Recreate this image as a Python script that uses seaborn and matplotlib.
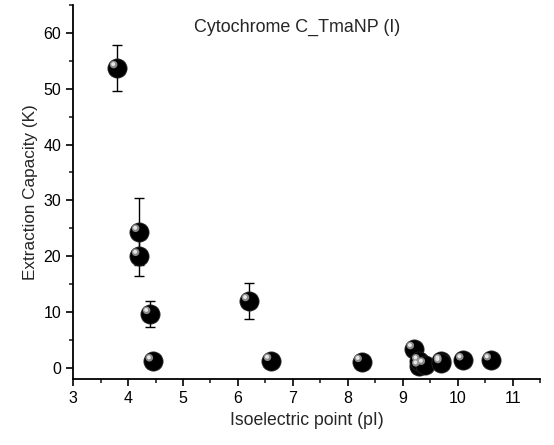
import matplotlib
matplotlib.use("Agg")
import matplotlib.pyplot as plt
import matplotlib.transforms as mtransforms
from matplotlib.ticker import MultipleLocator
import seaborn as sns
import pandas as pd
import numpy as np

pI = [3.8, 4.2, 4.2, 4.4, 4.45, 6.2, 6.6, 8.25, 9.2, 9.3, 9.3, 9.4, 9.7, 9.7, 10.1, 10.6]
capacity = [53.7, 24.4, 20.1, 9.7, 1.2, 12.0, 1.3, 1.1, 3.4, 0.3, 1.2, 0.6, 1.2, 0.9, 1.4, 1.4]
error = [4.1, 6.0, 3.7, 2.3, 0.0, 3.3, 0.0, 0.0, 0.0, 0.0, 0.0, 0.0, 0.0, 0.0, 0.0, 0.0]
title = "Cytochrome C_TmaNP (I)"

df = pd.DataFrame({"pI": pI, "K": capacity, "err": error})

sns.set_style("ticks")
plt.rcParams['font.family'] = ['Liberation Sans', 'DejaVu Sans']

fig = plt.figure(figsize=(5.54, 4.45), dpi=100)
ax = fig.add_axes([0.132, 0.148, 0.843, 0.841])

eb = df[df["err"] > 0]
ax.errorbar(eb["pI"], eb["K"], yerr=eb["err"], fmt="none", ecolor="black",
            elinewidth=1.0, capsize=3.5, capthick=1.0, zorder=1)

sns.scatterplot(data=df, x="pI", y="K", ax=ax, s=190, color="black",
                edgecolor="#222222", linewidth=0.6, zorder=3, legend=False)
# glossy highlight
offset = mtransforms.offset_copy(ax.transData, fig=fig, x=-2.5, y=2.5, units="points")
ax.scatter(df["pI"], df["K"], s=30, color="#9a9a9a", edgecolor="none",
           transform=offset, zorder=4, alpha=0.9)
offset2 = mtransforms.offset_copy(ax.transData, fig=fig, x=-2.8, y=2.8, units="points")
ax.scatter(df["pI"], df["K"], s=8, color="#e8e8e8", edgecolor="none",
           transform=offset2, zorder=5)

ax.set_xlim(3, 11.5)
ax.set_ylim(-2, 65)
ax.xaxis.set_major_locator(MultipleLocator(1))
ax.xaxis.set_minor_locator(MultipleLocator(0.5))
ax.yaxis.set_major_locator(MultipleLocator(10))
ax.yaxis.set_minor_locator(MultipleLocator(5))
ax.tick_params(axis="both", which="major", direction="out", length=5, width=1.2,
               labelsize=11.5, colors="black")
ax.tick_params(axis="both", which="minor", direction="out", length=3, width=1.2)
for s in ["top", "right"]:
    ax.spines[s].set_visible(False)
for s in ["left", "bottom"]:
    ax.spines[s].set_linewidth(1.3)
    ax.spines[s].set_color("black")

ax.set_xlabel("Isoelectric point (pI)", fontsize=12.7)
ax.set_ylabel("Extraction Capacity (K)", fontsize=12.3)
ax.text(0.48, 0.941, title, transform=ax.transAxes, fontsize=12.9, ha="center", va="center")

fig.savefig("out.png", dpi=100)
